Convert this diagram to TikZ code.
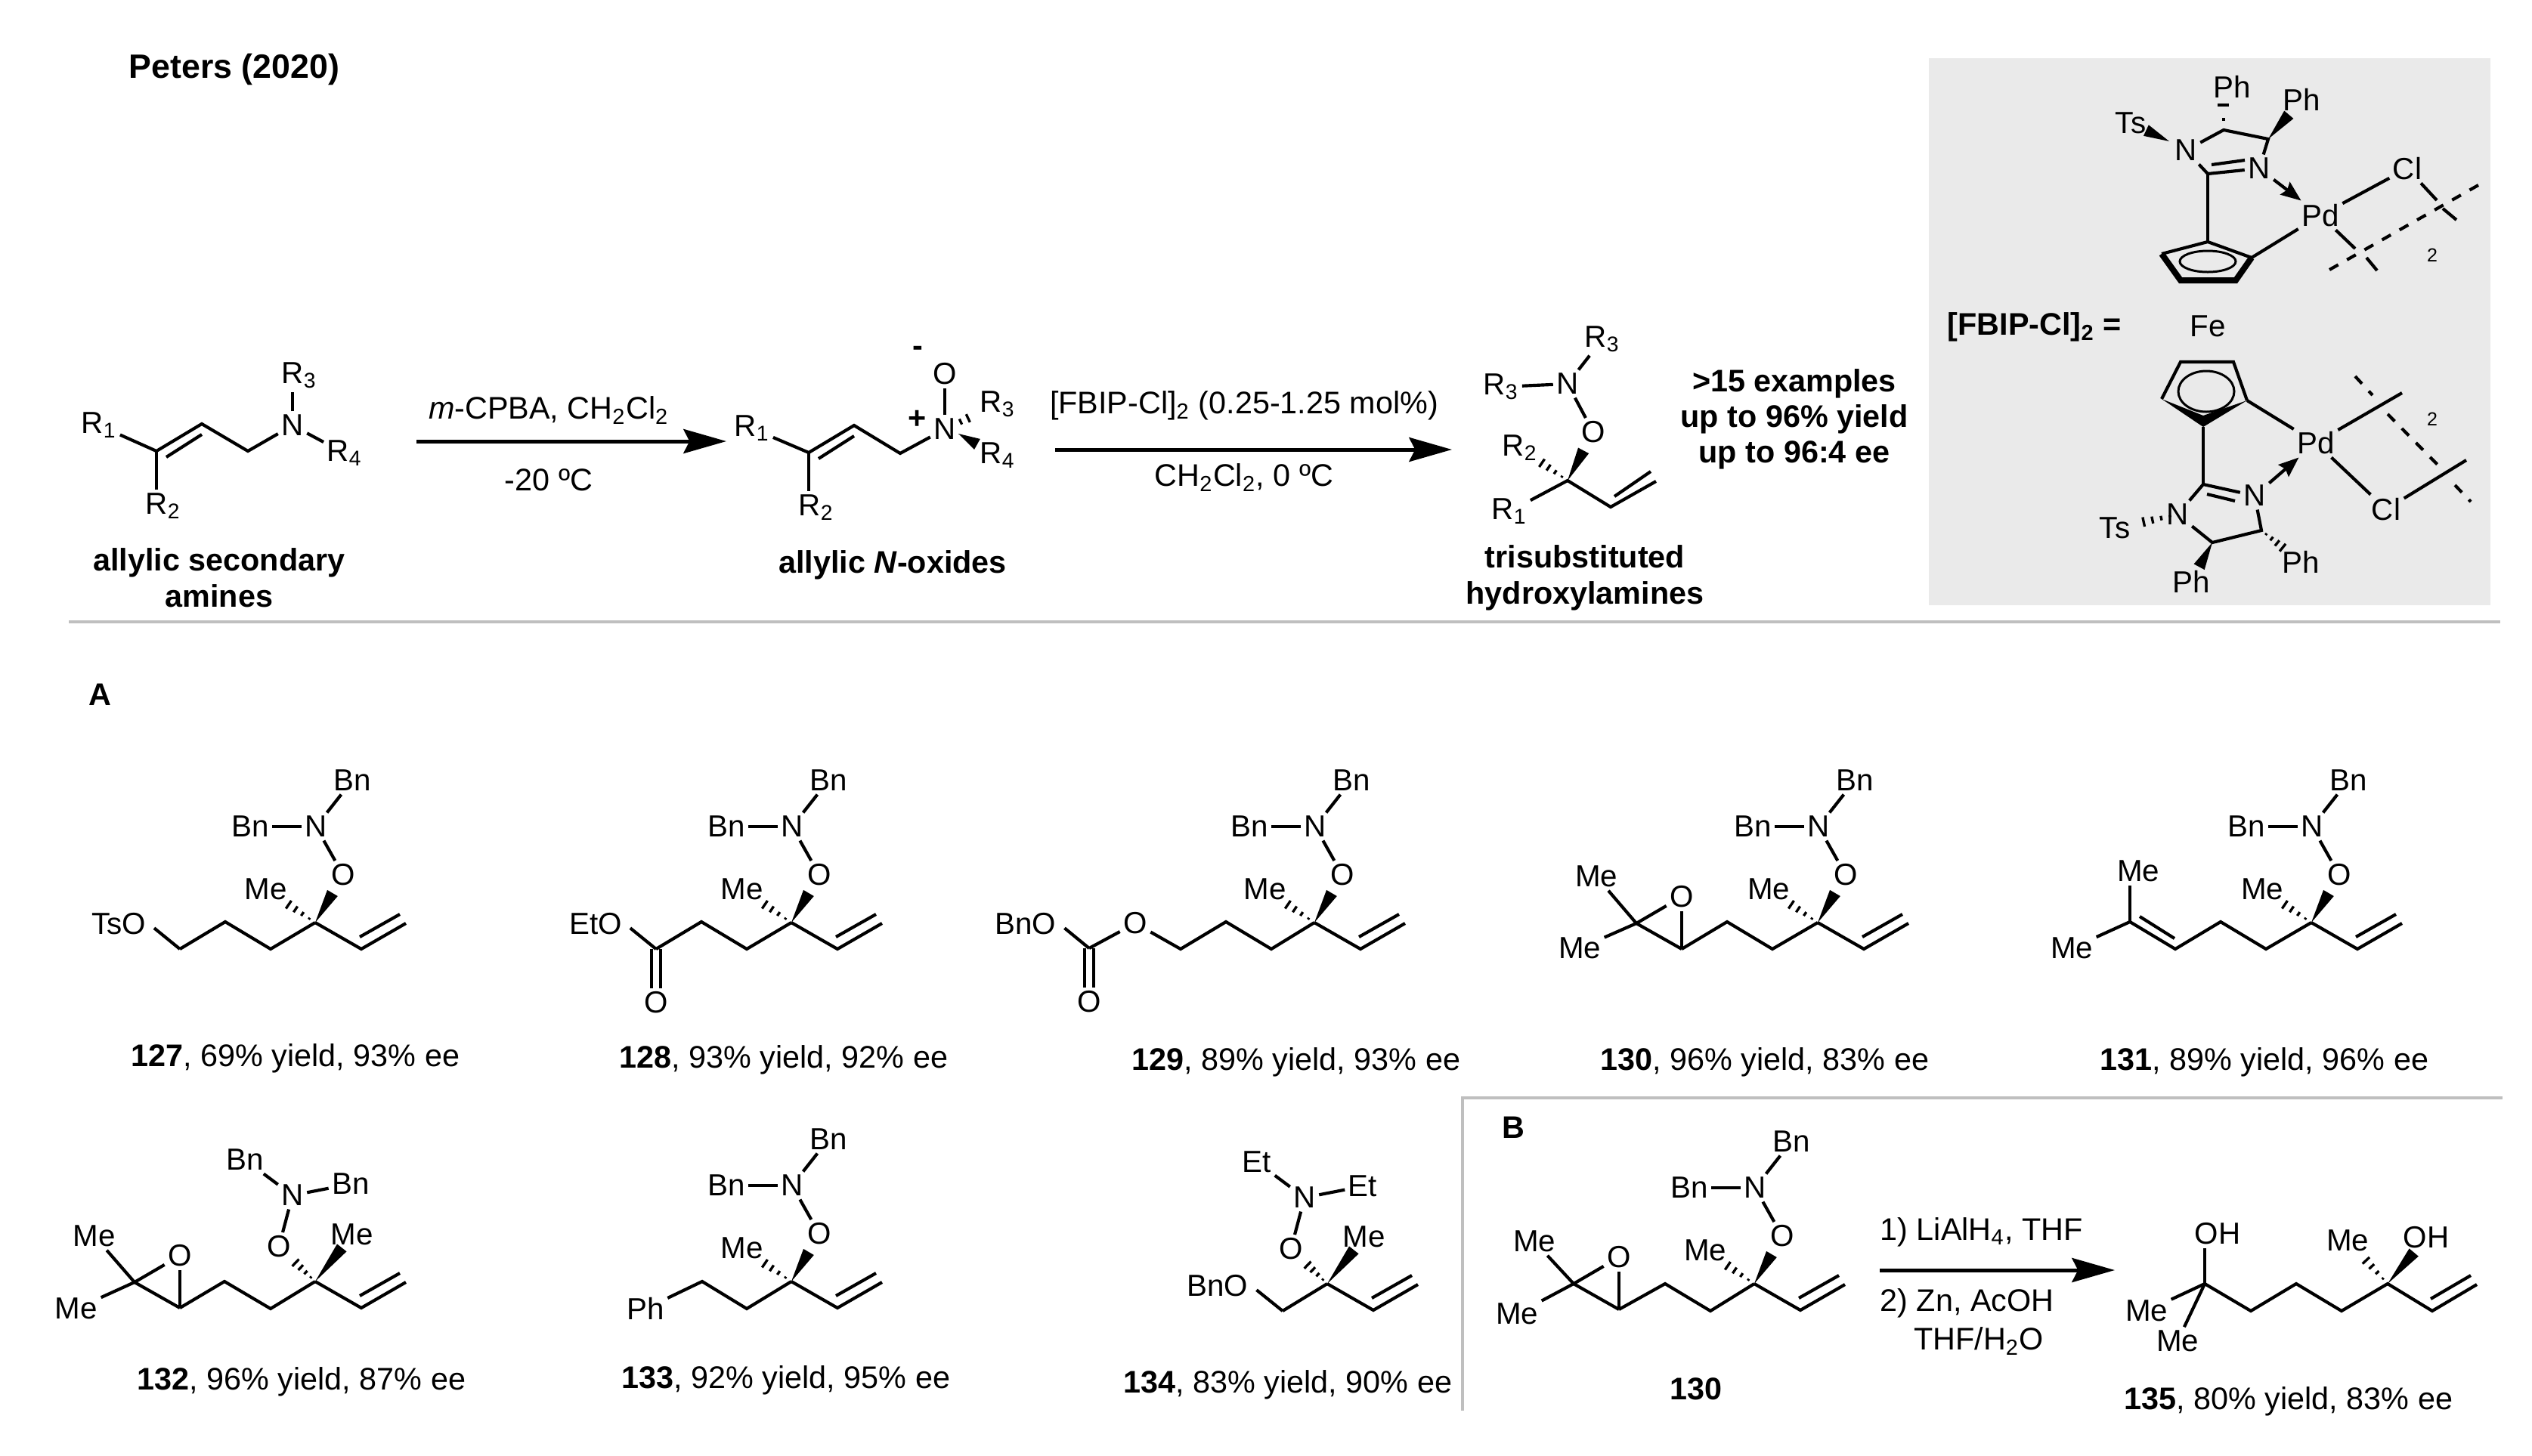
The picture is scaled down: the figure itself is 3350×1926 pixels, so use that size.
\documentclass[tikz,border=0pt]{standalone}
\usepackage{fontspec}
\setmainfont{Liberation Sans}
\usetikzlibrary{arrows.meta,calc}
\definecolor{rulegray}{HTML}{BFBFBF}
\definecolor{boxgray}{HTML}{EAEAEA}
\tikzset{
  atom/.style={inner sep=1.2pt,font=\fontsize{12.1}{14}\selectfont},
  lab/.style={inner sep=0pt,align=center,font=\fontsize{12.4}{14.3}\selectfont},
  boldlab/.style={inner sep=0pt,align=center,font=\fontsize{12.4}{14.3}\selectfont\bfseries},
  bond/.style={line width=1.25pt,line join=miter},
  hashline/.style={line width=1pt},
  rxn/.style={line width=1.5pt,-{Stealth[length=17pt,width=9.6pt,inset=2.4pt]}},
  dative/.style={line width=1.25pt,-{Stealth[length=8pt,width=6.2pt,inset=1pt]}},
  dashbond/.style={line width=1.25pt,dash pattern=on 4pt off 4pt},
  rulebar/.style={color=rulegray,line width=1.4pt}
}
\newcommand{\hashbond}[2]{
  \foreach \t/\w in {.12/.4,.26/.9,.40/1.4,.54/1.9}{
    \draw[hashline] ($(#1)!\t!(#2)!\w pt!90:(#2)$) -- ($(#1)!\t!(#2)!\w pt!-90:(#2)$);
  }
}
\newcommand{\wedgebond}[3]{
  \fill (#1) -- ($(#1)!#3!(#2)!2.4pt!90:(#2)$) -- ($(#1)!#3!(#2)!2.4pt!-90:(#2)$) -- cycle;
}
\newcommand{\vinyl}[1]{
  \coordinate (#1v1) at (61,35);
  \coordinate (#1v2) at (120,1);
  \coordinate (#1v3) at (59,19);
  \coordinate (#1v4) at (112,-11);
  \draw[bond] (#1c) -- (#1v1) -- (#1v2);
  \draw[bond] (#1v3) -- (#1v4);
}
\newcommand{\hxamine}[3]{
  \begin{scope}[shift={(#2,#3)}]
    \coordinate (#1c) at (0,0);
    \node[atom] (#1o) at (37,-63) {O};
    \node[atom] (#1n) at (1,-127) {N};
    \node[atom] (#1bt) at (49,-188) {Bn};
    \node[atom] (#1bl) at (-86,-127) {Bn};
    \node[atom] (#1me) at (-65,-44) {Me};
    \draw[bond] (#1o) -- (#1n) -- (#1bt);
    \draw[bond] (#1n) -- (#1bl);
    \wedgebond{#1c}{#1o}{.62}
    \hashbond{#1c}{#1me}
    \vinyl{#1}
  \end{scope}
}
\newcommand{\hxflip}[5]{
  \begin{scope}[shift={(#2,#3)}]
    \coordinate (#1c) at (0,0);
    \node[atom] (#1o) at (-48,-46) {O};
    \node[atom] (#1n) at (-30,-114) {N};
    \node[atom] (#1bt) at (-93,-161) {#4};
    \node[atom] (#1br) at (47,-129) {#5};
    \node[atom] (#1me) at (49,-62) {Me};
    \draw[bond] (#1o) -- (#1n) -- (#1bt);
    \draw[bond] (#1n) -- (#1br);
    \wedgebond{#1c}{#1me}{.72}
    \hashbond{#1c}{#1o}
    \vinyl{#1}
  \end{scope}
}
\newcommand{\epoxide}[7]{
  \coordinate (#1e1) at (#2,#3);
  \coordinate (#1e2) at (#2+60,#3+34);
  \node[atom] (#1eo) at (#2+60,#3-35) {O};
  \node[atom] (#1em) at (#4,#5) {Me};
  \node[atom] (#1ek) at (#6,#7) {Me};
  \draw[bond] (#1e1) -- (#1eo);
  \draw[bond] (#1e2) -- (#1eo.south -| #1e2);
  \draw[bond] (#1em) -- (#1e1) -- (#1ek);
  \draw[bond] (#1e1) -- (#1e2);
}
\begin{document}
\begin{tikzpicture}[x=0.3pt,y=-0.3pt]
\useasboundingbox (0,0) rectangle (3350,1926);

\fill[boxgray] (2552,77) rectangle (3295,801);
\coordinate (ruleA) at (91,823);
\coordinate (ruleB) at (3308,823);
\draw[rulebar] (ruleA) -- (ruleB);
\coordinate (ruleC) at (1935,1867);
\coordinate (ruleD) at (1935,1453);
\coordinate (ruleE) at (3311,1453);
\draw[rulebar,line join=miter] (ruleC) -- (ruleD) -- (ruleE);

\node[boldlab,font=\fontsize{13.4}{15}\selectfont\bfseries] (title) at (310,92) {Peters (2020)};
\node[boldlab] (labA) at (132,919) {A};
\node[boldlab] (labB) at (2002,1492) {B};

\node[atom] (a1r1) at (131,563) {R\textsubscript{1}};
\node[atom] (a1r2) at (216,670) {R\textsubscript{2}};
\node[atom] (a1r3) at (396,497) {R\textsubscript{3}};
\node[atom] (a1r4) at (456,600) {R\textsubscript{4}};
\node[atom] (a1n) at (387,563) {N};
\coordinate (a1c1) at (207,597);
\coordinate (a1c2) at (267,561);
\coordinate (a1c3) at (328,597);
\coordinate (a1d1) at (220,605);
\coordinate (a1d2) at (267,575);
\draw[bond] (a1r1) -- (a1c1) -- (a1c2) -- (a1c3) -- (a1n) -- (a1r4);
\draw[bond] (a1c1) -- (a1c1 |- a1r2.north);
\draw[bond] (a1d1) -- (a1d2);
\draw[bond] (a1n.north) -- (a1n.north |- a1r3.south);
\node[boldlab] (a1lab) at (290,765) {allylic secondary\\amines};

\coordinate (ar1a) at (551,584);
\coordinate (ar1b) at (961,584);
\draw[rxn] (ar1a) -- (ar1b);
\node[lab] (ar1t) at (726,543) {\textit{m}-CPBA, CH\textsubscript{2}Cl\textsubscript{2}};
\node[lab] (ar1u) at (726,635) {-20 ºC};

\node[atom] (a2r1) at (995,567) {R\textsubscript{1}};
\node[atom] (a2r2) at (1080,672) {R\textsubscript{2}};
\node[atom] (a2n) at (1250,568) {N};
\node[atom] (a2o) at (1250,495) {O};
\node[atom] (a2r3) at (1320,535) {R\textsubscript{3}};
\node[atom] (a2r4) at (1320,603) {R\textsubscript{4}};
\node[boldlab] (a2m) at (1214,465) {-};
\node[boldlab] (a2p) at (1214,555) {+};
\coordinate (a2c1) at (1070,599);
\coordinate (a2c2) at (1130,563);
\coordinate (a2c3) at (1191,600);
\coordinate (a2d1) at (1083,607);
\coordinate (a2d2) at (1130,577);
\draw[bond] (a2r1) -- (a2c1) -- (a2c2) -- (a2c3) -- (a2n);
\draw[bond] (a2c1) -- (a2c1 |- a2r2.north);
\draw[bond] (a2d1) -- (a2d2);
\draw[bond] (a2n) -- (a2o);
\foreach \t in {.30,.44}{
  \draw[hashline] ($(a2n)!\t!(a2r3)!\t*4 pt!90:(a2r3)$) -- ($(a2n)!\t!(a2r3)!\t*4 pt!-90:(a2r3)$);
}
\coordinate (a2w) at (1268,574);
\wedgebond{a2w}{a2r4}{.48}
\node[boldlab] (a2lab) at (1181,748) {allylic \textit{N}-oxides};

\coordinate (ar2a) at (1396,595);
\coordinate (ar2b) at (1921,595);
\draw[rxn] (ar2a) -- (ar2b);
\node[lab] (ar2t) at (1646,537) {[FBIP-Cl]\textsubscript{2} (0.25-1.25 mol\%)};
\node[lab] (ar2u) at (1646,632) {CH\textsubscript{2}Cl\textsubscript{2}, 0 ºC};

\node[atom] (a3r3t) at (2120,449) {R\textsubscript{3}};
\node[atom] (a3n) at (2074,508) {N};
\node[atom] (a3r3l) at (1986,512) {R\textsubscript{3}};
\node[atom] (a3o) at (2108,572) {O};
\node[atom] (a3r2) at (2011,593) {R\textsubscript{2}};
\node[atom] (a3r1) at (1997,677) {R\textsubscript{1}};
\coordinate (a3c) at (2074,636);
\coordinate (a3v1) at (2131,671);
\coordinate (a3v2) at (2191,637);
\coordinate (a3v3) at (2136,657);
\coordinate (a3v4) at (2184,624);
\draw[bond] (a3r3t) -- (a3n) -- (a3o);
\draw[bond] (a3n) -- (a3r3l);
\draw[bond] (a3r1) -- (a3c) -- (a3v1) -- (a3v2);
\draw[bond] (a3v3) -- (a3v4);
\wedgebond{a3c}{a3o}{.62}
\hashbond{a3c}{a3r2}
\node[boldlab] (a3lab) at (2097,765) {trisubstituted\\hydroxylamines};
\node[boldlab,font=\fontsize{12.4}{14.1}\selectfont\bfseries] (scope) at (2374,555) {>15 examples\\up to 96\% yield\\up to 96:4 ee};

\node[boldlab] (cat) at (2692,433) {[FBIP-Cl]\textsubscript{2} =};
\node[atom] (fe) at (2921,432) {Fe};
\node[atom] (u1ph1) at (2953,115) {Ph};
\node[atom] (u1ph2) at (3045,132) {Ph};
\node[atom] (u1ts) at (2819,163) {Ts};
\node[atom] (u1n1) at (2892,199) {N};
\node[atom] (u1n2) at (2989,223) {N};
\node[atom] (u1pd) at (3070,285) {Pd};
\node[atom] (u1cl) at (3185,223) {Cl};
\node[inner sep=0pt,font=\fontsize{7.5}{9}\selectfont] (u1two) at (3218,338) {2};
\coordinate (u1c2) at (2921,230);
\coordinate (u1c4) at (2942,172);
\coordinate (u1c5) at (3001,184);
\coordinate (u1d1) at (2926,218);
\coordinate (u1d2) at (2970,212);
\coordinate (u1r1) at (2921,320);
\coordinate (u1r2) at (2979,341);
\coordinate (u1r3) at (2958,371);
\coordinate (u1r4) at (2885,371);
\coordinate (u1r5) at (2860,336);
\draw[bond] (u1n1) -- (u1c2) -- (u1n2) -- (u1c5) -- (u1c4) -- (u1n1);
\draw[bond] (u1d1) -- (u1d2);
\draw[bond] (u1c2) -- (u1r1);
\draw[bond] (u1r5) -- (u1r1) -- (u1r2);
\draw[line width=2.4pt,line join=miter] (u1r5) -- (u1r4) -- (u1r3) -- (u1r2);
\draw[line width=.9pt] (2921,346) ellipse [x radius=37,y radius=14];
\draw[bond] (u1r2) -- (u1pd);
\draw[dative] (u1n2) -- (u1pd);
\draw[bond] (u1pd) -- (u1cl);
\wedgebond{u1c5}{u1ph2}{.62}
\coordinate (u1w) at (2870,187);
\wedgebond{u1w}{u1ts}{.6}
\coordinate (u1h1) at (2934,139);
\coordinate (u1h2) at (2949,139);
\coordinate (u1h3) at (2940,158);
\coordinate (u1h4) at (2944,158);
\draw[hashline] (u1h1) -- (u1h2);
\draw[hashline] (u1h3) -- (u1h4);
\coordinate (u1x1) at (3224,265);
\coordinate (u1x2) at (3232,276);
\coordinate (u1x3) at (3250,291);
\coordinate (u1x4) at (3116,329);
\coordinate (u1x5) at (3131,341);
\coordinate (u1x6) at (3145,358);
\coordinate (u1x7) at (3082,357);
\coordinate (u1x8) at (3279,245);
\draw[bond] (u1cl) -- (u1x1);
\draw[bond] (u1x2) -- (u1x3);
\draw[bond] (u1pd) -- (u1x4);
\draw[bond] (u1x5) -- (u1x6);
\draw[dashbond] (u1x7) -- (u1x8);

\node[atom] (l1ts) at (2798,699) {Ts};
\node[atom] (l1n1) at (2881,681) {N};
\node[atom] (l1n2) at (2983,656) {N};
\node[atom] (l1pd) at (3064,586) {Pd};
\node[atom] (l1cl) at (3157,674) {Cl};
\node[atom] (l1ph1) at (3044,744) {Ph};
\node[atom] (l1ph2) at (2899,770) {Ph};
\node[inner sep=0pt,font=\fontsize{7.5}{9}\selectfont] (l1two) at (3218,555) {2};
\coordinate (l1c2) at (2915,641);
\coordinate (l1c4) at (2927,718);
\coordinate (l1c5) at (2992,702);
\coordinate (l1d1) at (2920,654);
\coordinate (l1d2) at (2957,663);
\coordinate (l1r1) at (2885,479);
\coordinate (l1r2) at (2955,479);
\coordinate (l1r3) at (2973,530);
\coordinate (l1r4) at (2915,565);
\coordinate (l1r5) at (2860,528);
\coordinate (l1r6) at (2915,550);
\draw[bond] (l1r5) -- (l1r1) -- (l1r2) -- (l1r3);
\fill (l1r5) -- (l1r6) -- (l1r3) -- (l1r4) -- cycle;
\draw[line width=.9pt] (2919,518) ellipse [x radius=37,y radius=27];
\draw[bond] (l1r4) -- (l1c2);
\draw[bond] (l1n1) -- (l1c2) -- (l1n2) -- (l1c5) -- (l1c4) -- (l1n1);
\draw[bond] (l1d1) -- (l1d2);
\draw[bond] (l1r3) -- (l1pd);
\draw[dative] (l1n2) -- (l1pd);
\draw[bond] (l1pd) -- (l1cl);
\wedgebond{l1c4}{l1ph2}{.62}
\hashbond{l1c5}{l1ph1}
\hashbond{l1n1}{l1ts}
\coordinate (l1x1) at (3178,520);
\coordinate (l1x2) at (3263,609);
\coordinate (l1x3) at (3116,498);
\coordinate (l1x4) at (3139,523);
\coordinate (l1x5) at (3159,548);
\coordinate (l1x6) at (3227,617);
\coordinate (l1x7) at (3248,642);
\coordinate (l1x8) at (3269,664);
\draw[bond] (l1pd) -- (l1x1);
\draw[bond] (l1cl) -- (l1x2);
\draw[dashbond] (l1x3) -- (l1x4);
\draw[dashbond] (l1x5) -- (l1x6);
\draw[dashbond] (l1x7) -- (l1x8);

\hxamine{p7}{417}{1221}
\node[atom] (p7ots) at (157,1223) {TsO};
\coordinate (p7a) at (358,1256);
\coordinate (p7b) at (298,1220);
\coordinate (p7d) at (238,1256);
\draw[bond] (p7c) -- (p7a) -- (p7b) -- (p7d);
\draw[bond,shorten >=2.5pt] (p7d) -- (p7ots.east);
\node[lab] (p7lab) at (391,1401) {\textbf{127}, 69\% yield, 93\% ee};

\hxamine{p8}{1047}{1221}
\node[atom] (p8oet) at (788,1223) {EtO};
\node[atom] (p8o) at (868,1327) {O};
\coordinate (p8a) at (988,1256);
\coordinate (p8b) at (928,1220);
\coordinate (p8d) at (868,1256);
\draw[bond] (p8c) -- (p8a) -- (p8b) -- (p8d);
\draw[bond,shorten >=2.5pt] (p8d) -- (p8oet.east);
\draw[bond] ([xshift=-1.7pt]p8d) -- ([xshift=-1.7pt]p8d |- p8o.north);
\draw[bond] ([xshift=1.7pt]p8d) -- ([xshift=1.7pt]p8d |- p8o.north);
\node[lab] (p8lab) at (1037,1403) {\textbf{128}, 93\% yield, 92\% ee};

\hxamine{p9}{1739}{1221}
\node[atom] (p9obn) at (1357,1223) {BnO};
\node[atom] (p9o1) at (1502,1222) {O};
\node[atom] (p9o2) at (1441,1326) {O};
\coordinate (p9a) at (1682,1256);
\coordinate (p9b) at (1622,1220);
\coordinate (p9d) at (1562,1256);
\coordinate (p9e) at (1441,1255);
\draw[bond] (p9c) -- (p9a) -- (p9b) -- (p9d) -- (p9o1) -- (p9e);
\draw[bond,shorten >=2.5pt] (p9e) -- (p9obn.east);
\draw[bond] ([xshift=-1.7pt]p9e) -- ([xshift=-1.7pt]p9e |- p9o2.north);
\draw[bond] ([xshift=1.7pt]p9e) -- ([xshift=1.7pt]p9e |- p9o2.north);
\node[lab] (p9lab) at (1715,1406) {\textbf{129}, 89\% yield, 93\% ee};

\hxamine{q0}{2405}{1221}
\epoxide{q0}{2165}{1222}{2112}{1160}{2090}{1255}
\coordinate (q0a) at (2345,1256);
\coordinate (q0b) at (2285,1220);
\draw[bond] (q0c) -- (q0a) -- (q0b) -- (q0e2);
\node[lab] (q0lab) at (2335,1406) {\textbf{130}, 96\% yield, 83\% ee};

\hxamine{q1}{3058}{1221}
\node[atom] (q1mt) at (2829,1153) {Me};
\node[atom] (q1mb) at (2741,1255) {Me};
\coordinate (q1a) at (2998,1256);
\coordinate (q1b) at (2938,1220);
\coordinate (q1d) at (2878,1256);
\coordinate (q1e) at (2818,1220);
\coordinate (q1f) at (2831,1213);
\coordinate (q1g) at (2877,1242);
\draw[bond] (q1c) -- (q1a) -- (q1b) -- (q1d) -- (q1e) -- (q1mb);
\draw[bond] (q1e) -- (q1e |- q1mt.south);
\draw[bond] (q1f) -- (q1g);
\node[lab] (q1lab) at (2996,1406) {\textbf{131}, 89\% yield, 96\% ee};

\hxflip{q2}{417}{1696}{Bn}{Bn}
\epoxide{q2}{178}{1697}{125}{1636}{101}{1732}
\coordinate (q2a) at (358,1732);
\coordinate (q2b) at (297,1696);
\draw[bond] (q2c) -- (q2a) -- (q2b) -- (q2e2);
\node[lab] (q2lab) at (399,1829) {\textbf{132}, 96\% yield, 87\% ee};

\hxamine{q3}{1047}{1696}
\node[atom] (q3ph) at (854,1732) {Ph};
\coordinate (q3a) at (988,1732);
\coordinate (q3b) at (929,1696);
\draw[bond] (q3c) -- (q3a) -- (q3b) -- (q3ph);
\node[lab] (q3lab) at (1040,1827) {\textbf{133}, 92\% yield, 95\% ee};

\hxflip{q4}{1756}{1699}{Et}{Et}
\node[atom] (q4obn) at (1611,1702) {BnO};
\coordinate (q4a) at (1697,1735);
\draw[bond] (q4c) -- (q4a);
\draw[bond,shorten >=2.5pt] (q4a) -- (q4obn.east);
\node[lab] (q4lab) at (1704,1833) {\textbf{134}, 83\% yield, 90\% ee};

\hxamine{b0}{2321}{1699}
\epoxide{b0}{2082}{1699}{2030}{1643}{2007}{1739}
\coordinate (b0a) at (2263,1735);
\coordinate (b0b) at (2203,1699);
\draw[bond] (b0c) -- (b0a) -- (b0b) -- (b0e2);
\node[boldlab] (b0lab) at (2244,1838) {130};

\coordinate (ar3a) at (2487,1681);
\coordinate (ar3b) at (2798,1681);
\draw[rxn] (ar3a) -- (ar3b);
\node[lab,anchor=west] (ar3t) at (2487,1631) {1) LiAlH\textsubscript{4}, THF};
\node[lab,anchor=west] (ar3u) at (2487,1725) {2) Zn, AcOH};
\node[lab] (ar3v) at (2618,1775) {THF/H\textsubscript{2}O};

\coordinate (b5c) at (3159,1699);
\coordinate (b5v1) at (3218,1735);
\coordinate (b5v2) at (3277,1700);
\coordinate (b5v3) at (3216,1719);
\coordinate (b5v4) at (3269,1688);
\node[atom] (b5oh) at (3210,1638) {OH};
\node[atom] (b5me) at (3106,1642) {Me};
\node[atom] (b5ot) at (2934,1633) {OH};
\node[atom] (b5ml) at (2840,1735) {Me};
\node[atom] (b5mb) at (2881,1775) {Me};
\coordinate (b5a) at (3098,1735);
\coordinate (b5b) at (3038,1699);
\coordinate (b5d) at (2978,1735);
\coordinate (b5e) at (2917,1699);
\draw[bond] (b5v2) -- (b5v1) -- (b5c) -- (b5a) -- (b5b) -- (b5d) -- (b5e) -- (b5ml);
\draw[bond] (b5v3) -- (b5v4);
\draw[bond] (b5e) -- (b5e |- b5ot.south);
\draw[bond] (b5e) -- (b5mb);
\wedgebond{b5c}{b5oh}{.68}
\hashbond{b5c}{b5me}
\node[lab] (b5lab) at (3028,1855) {\textbf{135}, 80\% yield, 83\% ee};
\end{tikzpicture}
\end{document}
